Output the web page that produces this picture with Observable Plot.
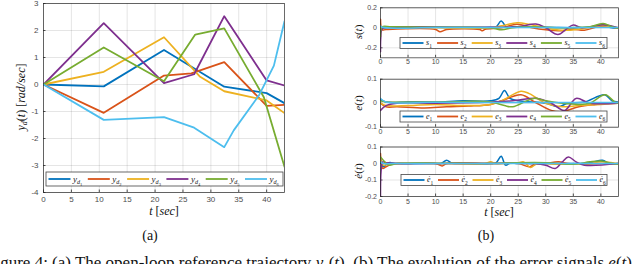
<!DOCTYPE html>
<html><head><meta charset="utf-8">
<script src="https://cdn.jsdelivr.net/npm/d3@7"></script>
<script src="https://cdn.jsdelivr.net/npm/@observablehq/plot@0.6"></script>
<style>
body{margin:0;background:#fff}
#root{position:relative;width:640px;height:264px;overflow:hidden;background:#fff}
.p{position:absolute}
</style>
</head><body><div id="root"></div>
<script>
const colors = ["#0072BD","#D95319","#EDB120","#7E2F8E","#77AC30","#4DBEEE"];

// ---- (a) reference trajectories y_d(t)
const tYd1 = [0,10.8,21.6,32.4,40,43.2];
const yd1  = [0,-0.07,1.28,-0.08,-0.32,-0.69];
const tYd2 = [0,10.8,21.6,26.5,32.4,40,43.2];
const yd2  = [0,-1.05,0.33,0.41,0.83,-0.79,-0.75];
const tYd3 = [0,10.8,21.6,28,32.4,40,43.2];
const yd3  = [0,0.47,1.75,0.3,-0.25,-0.59,-1.06];
const tYd4 = [0,10.8,21.6,27,32.4,40,43.2];
const yd4  = [0,2.27,0.05,0.38,2.53,0.15,-0.04];
const tYd5 = [0,10.8,21.6,27.2,32.4,39.5,43.2];
const yd5  = [0,1.37,0.12,1.85,2.08,-0.47,-3.05];
const tYd6 = [0,10.8,21.6,27,32.4,34.1,38.6,41.3,43.2];
const yd6  = [0,-1.31,-1.21,-1.6,-2.32,-1.7,-0.41,0.7,2.34];

// ---- (b) s(t)
const tS1=[0,2,10,20,21,21.9,23,24,30,38,40.2,42,43.2], s1=[0,0.008,0.005,0.005,0.01,0.067,0,0.01,0.005,0.005,0.03,0,0];
const tS2=[0,0.3,1,10,10.8,12,18,18.5,19,22,24.8,27.5,30,33,35,37,40,43.2], s2=[0.085,-0.02,-0.017,-0.017,-0.04,-0.018,-0.018,-0.03,-0.015,0,0.035,0.0,-0.02,-0.03,-0.015,-0.025,0.015,-0.005];
const tS3=[0,5,20,22,24.8,27,29,33,36,40,43.2], s3=[0,0.005,0,0.02,0.05,0.035,0.01,-0.025,-0.015,0.02,0];
const tS4=[0,0.05,0.3,1,20,25,28.2,30,32.2,33.8,35,36.5,40.4,43.2], s4=[-0.24,-0.1,-0.01,0,0.005,0.01,0.037,0,-0.067,-0.01,0.027,0,0.03,0];
const tS5=[0,0.3,2,10,20,22,24,28,32,36,38,40.4,42,43.2], s5=[-0.09,0.01,0.01,0.005,0,-0.02,0,0.01,0,0.005,0.01,0.043,0.01,-0.005];
const tS6=[0,0.3,10,20,30,43.2], s6=[0.02,0.005,0.003,0.003,0.002,0.003];

// ---- (b) e(t)
const tE1=[0,1,5,10,15,20,21.5,22.5,23.5,25,28,30,32.3,34,37,40.7,42,43.2], e1=[0.015,0.005,0.005,0.005,0.01,0.01,0.02,0.053,0.02,0.01,0.005,0,-0.015,0,0.005,0.035,0.01,0.005];
const tE2=[0,1,3,8,12,16,20,22,25.5,28,31,33,36,39,41,43.2], e2=[0,-0.015,-0.015,-0.02,-0.015,-0.012,-0.005,0.01,0.035,0.005,-0.03,-0.035,-0.015,-0.005,0,0.003];
const tE3=[0,1,5,10,15,20,22,25.5,27,30,33,36,40,43.2], e3=[0,-0.01,-0.01,-0.005,-0.01,-0.005,0.01,0.05,0.04,0,-0.015,-0.01,-0.005,0];
const tE4=[0,1,3,10,20,24,28.5,31,33.4,35.5,38,43.2], e4=[-0.03,-0.01,0,0,0.005,0.01,0.02,0,-0.03,0.02,0,0];
const tE5=[0,1,10,20,22.5,24,27.8,30,33,36,38,40.8,42.5,43.2], e5=[0.01,0.005,0.005,0.005,-0.01,-0.015,0.02,0.01,0,-0.005,0,0.035,0.005,0];
const tE6=[0,1,10,20,30,43.2], e6=[0.02,0.005,0.004,0.003,0.003,0.003];

// ---- (b) e-dot(t)
const tD1=[0,0.5,1.5,3,10,11,12,13,15,20,21,21.9,22.7,23.5,25,30,35,38,40.3,41.5,43.2], d1=[0.03,-0.02,0.005,0,0,0,0.02,0.002,0,0,0.005,0.044,-0.01,0.002,0,0,0,0.005,0.02,0,0];
const tD2=[0,0.4,1,2,5,10,11.2,12,20,25,27,28,30,32.3,34,36,40,43.2], d2=[0.06,-0.03,-0.02,-0.005,0,0,-0.015,0,0,0,-0.02,-0.005,0,0.01,0,-0.005,0,-0.003];
const tD3=[0,0.5,2,10,19,20,21,25,26,27.2,28.5,32,38,40,43.2], d3=[0.02,-0.01,0,0,0,0.01,0,0.005,0.01,-0.024,0,-0.005,0,0.01,0];
const tD4=[0,0.1,0.4,1,5,10,20,28,30,31.7,33,34.1,35.5,37,43.2], d4=[-0.2,-0.05,0.01,0.005,0,0,0,0,-0.01,-0.03,0.01,0.04,0.01,-0.01,0];
const tD5=[0,0.5,1.5,3,10,20,25,30,35,38,40,41.5,43.2], d5=[0.04,0.02,-0.01,0,0.002,0,0.005,0.005,-0.005,0.01,0.015,0.005,-0.005];
const tD6=[0,0.5,2,10,20,30,43.2], d6=[0.01,0,0,0,0,0,0];

const xTicks = [0,5,10,15,20,25,30,35,40];
const yTicksA = [-4,-3,-2,-1,0,1,2,3];
const yTicksS = [-0.2,0,0.2];
const yTicksE = [-0.1,0,0.1];
const yTicksD = [-0.2,-0.1,0,0.1];
const legendIdx = ["1","2","3","4","5","6"];

function rows(ts, vs, k){ return ts.map((t,i)=>({t, v: vs[i], k})); }
const dataA = [[tYd1,yd1],[tYd2,yd2],[tYd3,yd3],[tYd4,yd4],[tYd5,yd5],[tYd6,yd6]].map((p,k)=>rows(p[0],p[1],k));
const dataS = [[tS1,s1],[tS2,s2],[tS3,s3],[tS4,s4],[tS5,s5],[tS6,s6]].map((p,k)=>rows(p[0],p[1],k));
const dataE = [[tE1,e1],[tE2,e2],[tE3,e3],[tE4,e4],[tE5,e5],[tE6,e6]].map((p,k)=>rows(p[0],p[1],k));
const dataD = [[tD1,d1],[tD2,d2],[tD3,d3],[tD4,d4],[tD5,d5],[tD6,d6]].map((p,k)=>rows(p[0],p[1],k));

const root = document.getElementById("root");
const fmt = d => String(d);
function panel(o){
  const fh = o.height - o.mt - o.mb;
  const fw = o.width - o.ml - o.mr;
  const marks = [
    Plot.ruleX(xTicks, {x: d=>d, stroke:"#262626", strokeOpacity:0.12}),
    Plot.ruleY(o.yTicks, {y: d=>d, stroke:"#262626", strokeOpacity:0.12}),
    Plot.tickX(xTicks, {x: d=>d, insetTop: fh-2.5, stroke:"#262626", strokeOpacity:0.8}),
    Plot.tickY(o.yTicks, {y: d=>d, insetRight: fw-2.5, stroke:"#262626", strokeOpacity:0.8}),
    ...o.data.map((rs,k)=>Plot.line(rs,{x:"t",y:"v",stroke:colors[k],strokeWidth:o.sw,curve:o.curve,clip:true})),
    Plot.frame({stroke:"#262626", strokeWidth:0.8, strokeOpacity:0.85})
  ];
  const svg = Plot.plot({
    width:o.width, height:o.height, marginLeft:o.ml, marginRight:o.mr, marginTop:o.mt, marginBottom:o.mb,
    x:{domain:[0,43.2], ticks:xTicks, tickSize:0, tickPadding:o.padX, tickFormat:fmt, label:null},
    y:{domain:o.yDom, ticks:o.yTicks, tickSize:0, tickPadding:o.padY, tickFormat:fmt, label:null},
    style:{fontFamily:"'Liberation Sans', Arial, sans-serif", fontSize:o.fs+"px", color:"#4d4d4d", background:"transparent", overflow:"visible"},
    marks
  });
  svg.classList.add("p");
  svg.style.left = o.left+"px"; svg.style.top = o.top+"px";
  root.appendChild(svg);
}

panel({left:0, top:0, width:300, height:212, ml:43, mr:16, mt:3, mb:20, yDom:[-4,3], yTicks:yTicksA, data:dataA, fs:8, padX:4, padY:5, sw:1.8, curve:"linear"});
panel({left:340, top:0, width:290, height:69, ml:40, mr:12, mt:7.3, mb:11.7, yDom:[-0.3,0.2], yTicks:yTicksS, data:dataS, fs:7, padX:1.5, padY:3.5, sw:1.5, curve:"catmull-rom"});
panel({left:340, top:70, width:290, height:69, ml:40, mr:12, mt:8.7, mb:12.3, yDom:[-0.1,0.1], yTicks:yTicksE, data:dataE, fs:7, padX:2, padY:3.5, sw:1.5, curve:"catmull-rom"});
panel({left:340, top:139, width:290, height:69, ml:40, mr:12, mt:7.5, mb:12, yDom:[-0.2,0.1], yTicks:yTicksD, data:dataD, fs:7, padX:2.5, padY:3.5, sw:1.5, curve:"catmull-rom"});

// ---- overlay: legends, axis labels, captions (plain DOM)
const NS = "http://www.w3.org/2000/svg";
function el(tag, attrs, parent, text){
  const e = document.createElementNS(NS, tag);
  for (const k in attrs) if (attrs[k] != null) e.setAttribute(k, attrs[k]);
  if (text != null) e.textContent = text;
  parent.appendChild(e);
  return e;
}
const ov = el("svg", {width:640, height:264, class:"p", style:"left:0;top:0;pointer-events:none"}, root);
const serif = "'Liberation Serif','DejaVu Serif',serif";

function legend(x,y,w,h,step,lineLen,sym,fs,plainSub){
  el("rect",{x,y,width:w,height:h,fill:"#fff",stroke:"#262626","stroke-width":0.8,"stroke-opacity":0.85},ov);
  legendIdx.forEach((lab,i)=>{
    const x0 = x+1.5+i*step, cy = y+h/2;
    el("line",{x1:x0+1,x2:x0+1+lineLen,y1:cy,y2:cy,stroke:colors[i],"stroke-width":1.8},ov);
    const t = el("text",{x:x0+lineLen+3.5,y:cy+fs*0.28,"font-family":serif,"font-size":fs,"font-style":"italic",fill:"#222"},ov);
    el("tspan",{},t,sym);
    if (plainSub) {
      el("tspan",{dy:fs*0.3,"font-size":fs*0.68,"font-style":"normal"},t,lab);
    } else {
      el("tspan",{dy:fs*0.3,"font-size":fs*0.68},t,"d");
      el("tspan",{dy:fs*0.2,"font-size":fs*0.5,"font-style":"normal"},t,lab);
    }
  });
}
legend(46,172,237,14,39.3,22,"y",9,false);
legend(400,37.5,207,11,34.6,21,"s",8,true);
legend(400,111,207,11,34.6,21,"e",8,true);
legend(401,174.5,206,11,34.5,21,"ė",8,true);

function mathLabel(x,y,rot,parts,fs){
  const g = el("g",{transform:`translate(${x},${y}) rotate(${rot})`},ov);
  const t = el("text",{"text-anchor":"middle","font-family":serif,"font-size":fs,fill:"#111"},g);
  parts.forEach(p=>{
    el("tspan",{"font-style":p[1]?"italic":null,"font-size":p[2]||null,dy:p[3]||null},t,p[0]);
  });
}
mathLabel(25,97,-90,[["y",1],["d",1,8,2],["(",0,null,-2],["t",1],[")  [",0],["rad/sec",1],["]",0]],12);
mathLabel(164,215,0,[["t",1],["  [",0],["sec",1],["]",0]],12);
mathLabel(499,216,0,[["t",1],["  [",0],["sec",1],["]",0]],12);
mathLabel(362,32,-90,[["s",1],["(",0],["t",1],[")",0]],11);
mathLabel(362,103,-90,[["e",1],["(",0],["t",1],[")",0]],11);
mathLabel(362,171,-90,[["ė",1],["(",0],["t",1],[")",0]],11);

el("text",{x:150,y:240,"text-anchor":"middle","font-family":serif,"font-size":14,fill:"#111"},ov,"(a)");
el("text",{x:486,y:240,"text-anchor":"middle","font-family":serif,"font-size":14,fill:"#111"},ov,"(b)");

const cap = el("text",{x:-14,y:268,"font-family":serif,"font-size":17,fill:"#111"},ov);
el("tspan",{},cap,"Figure 4: (a) The open-loop reference trajectory ");
el("tspan",{"font-style":"italic"},cap,"y");
el("tspan",{"font-style":"italic","font-size":11,dy:3},cap,"d");
el("tspan",{dy:-3},cap,"(");
el("tspan",{"font-style":"italic"},cap,"t");
el("tspan",{},cap,"). (b) The evolution of the error signals ");
el("tspan",{"font-style":"italic"},cap,"e");
el("tspan",{},cap,"(");
el("tspan",{"font-style":"italic"},cap,"t");
el("tspan",{},cap,"), ");
</script></body></html>
